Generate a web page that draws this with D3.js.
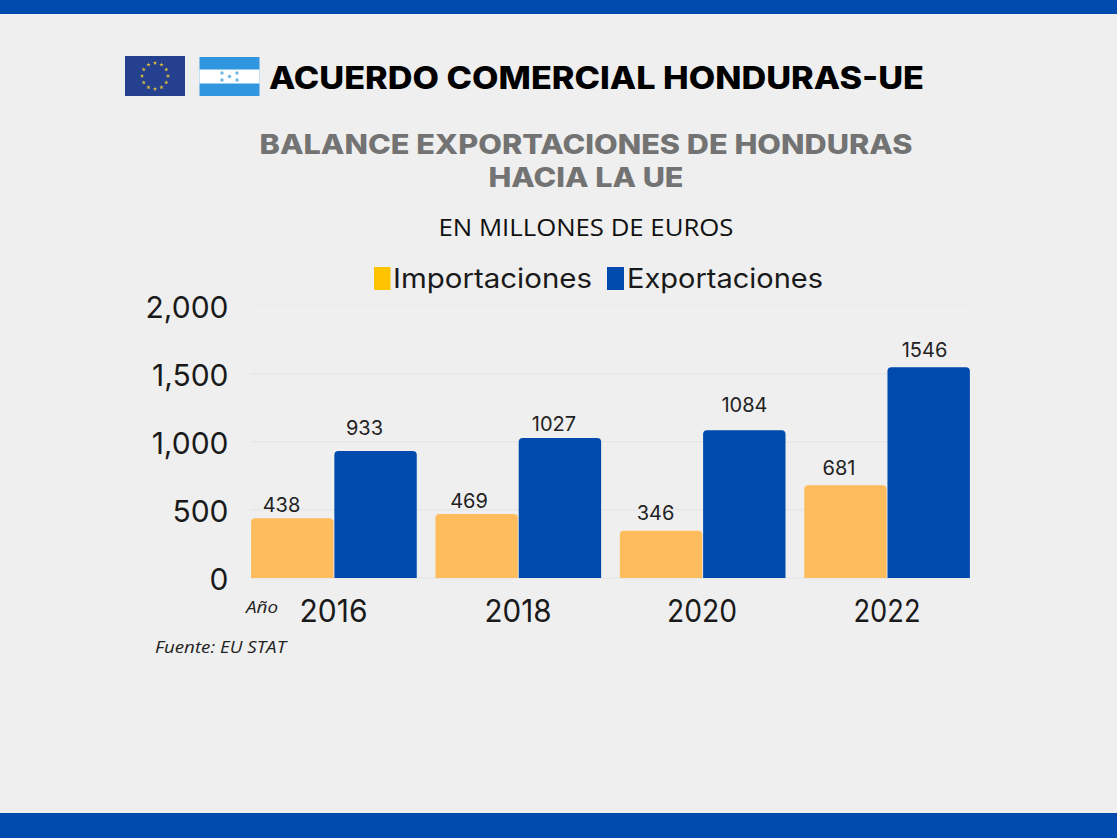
<!DOCTYPE html>
<html><head><meta charset="utf-8">
<script src="https://cdn.jsdelivr.net/npm/d3@7/dist/d3.min.js"></script>
<style>html,body{margin:0;padding:0;background:#efefef;overflow:hidden}svg{display:block}</style>
</head><body><svg id="c" width="1117" height="838"></svg>
<script>
const years = ["2016","2018","2020","2022"];
const importaciones = [438,469,346,681];
const exportaciones = [933,1027,1084,1546];
const yTicks = [0,500,1000,1500,2000];
const seriesNames = ["Importaciones","Exportaciones"];
const barColors = ["#FFBC5C","#004AAD"];
const legendColors = ["#FFC300","#004AAD"];

const svg = d3.select("#c");
const W=1117,H=838;
svg.append("rect").attr("width",W).attr("height",H).attr("fill","#efefef");
svg.append("rect").attr("width",W).attr("height",14).attr("fill","#004AAD");
svg.append("rect").attr("y",813).attr("width",W).attr("height",25).attr("fill","#004AAD");

function txt(x,y,s,o={}){
  const t=svg.append("text").attr("x",x).attr("y",y).text(s)
   .attr("font-family",o.f||"'Noto Sans'").attr("font-size",o.s||16)
   .attr("font-weight",o.w||400).attr("fill",o.c||"#111")
   .attr("text-anchor",o.a||"middle");
  if(o.i)t.attr("font-style","italic");
  if(o.l)t.attr("textLength",o.l).attr("lengthAdjust","spacingAndGlyphs");
  return t;
}
// flags
const eu=svg.append("g").attr("transform","translate(125,56)");
eu.append("rect").attr("width",60).attr("height",40).attr("fill","#25408F");
d3.range(12).forEach(i=>{const a=i/12*2*Math.PI;
 eu.append("path").attr("d",d3.symbol(d3.symbolStar,6)()).attr("fill","#DDBB3C")
  .attr("transform",`translate(${30+13*Math.sin(a)},${20-13*Math.cos(a)})`);});
const hn=svg.append("g").attr("transform","translate(199.5,57)");
hn.append("rect").attr("width",60).attr("height",39).attr("fill","#2F96DF");
hn.append("rect").attr("y",12.5).attr("width",60).attr("height",14).attr("fill","#fff");
[[-7.5,-3.5],[7.5,-3.5],[0,0],[-7.5,3.5],[7.5,3.5]].forEach(p=>{
 hn.append("path").attr("d",d3.symbol(d3.symbolCircle,9)()).attr("fill","#6DB6E8")
  .attr("transform",`translate(${30+p[0]},${19.5+p[1]})`);});

txt(269,89,"ACUERDO COMERCIAL HONDURAS-UE",{f:"Inter",s:31,w:800,c:"#000",a:"start",l:655});
txt(586,154,"BALANCE EXPORTACIONES DE HONDURAS",{f:"Inter",s:27,w:800,c:"#737373",l:653});
txt(586,187,"HACIA LA UE",{f:"Inter",s:27,w:800,c:"#737373",l:195});
txt(586,236,"EN MILLONES DE EUROS",{f:"'Open Sans'",s:23.5,c:"#111",l:295});

// scales
const y=d3.scaleLinear().domain([0,2000]).range([578,305.5]);
const x0=d3.scaleBand().domain(years).range([250.6,988.1]).paddingInner(0).paddingOuter(0).align(0);
const x1=d3.scaleBand().domain(seriesNames).range([0,166.5]);

// grid
const g=svg.append("g");
g.selectAll("line").data(yTicks).join("line")
 .attr("x1",251).attr("x2",970).attr("y1",d=>y(d)).attr("y2",d=>y(d))
 .attr("stroke",d=>d===2000?"#ebebeb":"#e4e4e4").attr("stroke-width",1);
// y tick labels
svg.append("g").selectAll("text").data(yTicks).join("text")
 .attr("x",228.5).attr("y",d=>y(d)+12).attr("text-anchor","end")
 .attr("font-family","Inter").attr("font-size",30).attr("font-weight",400).attr("fill","#1a1a1a")
 .text(d3.format(","));
// x tick labels
svg.append("g").selectAll("text").data(years).join("text")
 .attr("x",(d,i)=>[333.5,518,702,887][i]).attr("y",622).attr("text-anchor","middle")
 .attr("font-family","Inter").attr("font-size",30.5).attr("fill","#1a1a1a")
 .attr("textLength",(d,i)=>[68,67,70,67][i]).attr("lengthAdjust","spacingAndGlyphs")
 .text(d=>d);

function roundTop(xp,yt,w,yb,r){
  const p=d3.path();
  p.moveTo(xp,yb);p.lineTo(xp,yt+r);p.arcTo(xp,yt,xp+r,yt,r);
  p.lineTo(xp+w-r,yt);p.arcTo(xp+w,yt,xp+w,yt+r,r);p.lineTo(xp+w,yb);p.closePath();
  return p.toString();
}
const series=[importaciones,exportaciones];
series.forEach((vals,si)=>{
  const sg=svg.append("g");
  sg.selectAll("path").data(vals).join("path")
    .attr("fill",barColors[si])
    .attr("d",(v,i)=>roundTop(x0(years[i])+x1(seriesNames[si])+0.5,y(v),82.4,y(0),4));
  sg.selectAll("text").data(vals).join("text")
    .attr("x",(v,i)=>[[281.5,469,655.5,839],[364.5,554,744.5,924.5]][si][i])
    .attr("y",(v,i)=>[[512,508,520,475],[435,431,412,357]][si][i])
    .attr("text-anchor","middle").attr("font-family","Inter").attr("font-size",20).attr("fill","#222")
    .text(v=>v);
});

// legend
svg.append("rect").attr("x",374).attr("y",267).attr("width",16.5).attr("height",23).attr("fill",legendColors[0]);
svg.append("rect").attr("x",607).attr("y",267).attr("width",17).attr("height",23).attr("fill",legendColors[1]);
txt(393,288,seriesNames[0],{f:"Inter",s:27,a:"start",l:199,c:"#1a1a1a"});
txt(627,288,seriesNames[1],{f:"Inter",s:27,a:"start",l:196,c:"#1a1a1a"});

txt(246,613,"Año",{f:"'Open Sans'",s:17,a:"start",i:true,c:"#222",l:32});
txt(155,653,"Fuente: EU STAT",{f:"'Open Sans'",s:16.5,a:"start",i:true,c:"#222",l:131});
</script></body></html>
